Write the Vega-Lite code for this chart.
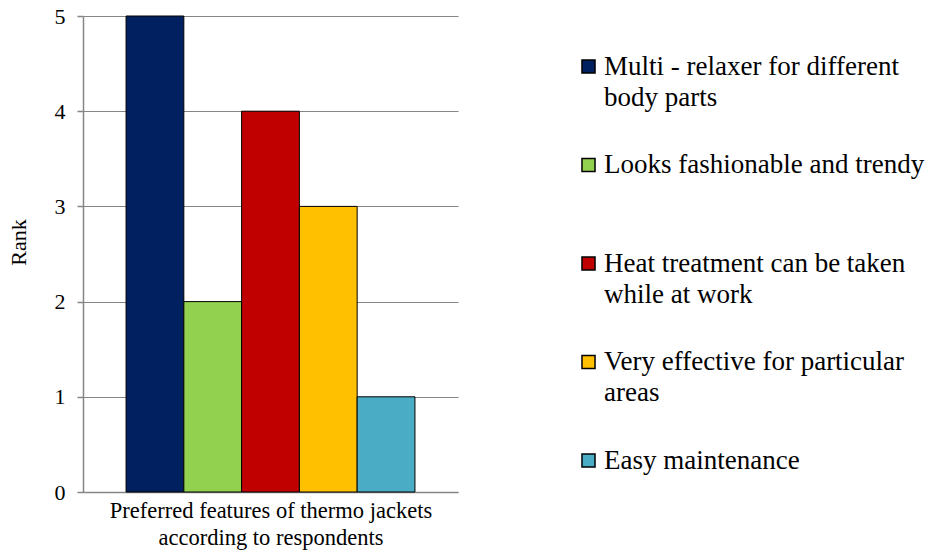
{
  "$schema": "https://vega.github.io/schema/vega-lite/v6.json",
  "width": 375,
  "height": 476,
  "autosize": {"type": "none"},
  "padding": {"left": 83, "top": 16, "right": 476, "bottom": 67},
  "background": "white",
  "config": {
    "view": {"stroke": null},
    "font": "Liberation Serif",
    "style": {"guide-label": {"lineHeight": 31, "font": "Liberation Serif"}, "guide-title": {"font": "Liberation Serif"}}
  },
  "data": {
    "values": [
      {"group": "Preferred features", "feature": "Multi - relaxer for different body parts", "rank": 5},
      {"group": "Preferred features", "feature": "Looks fashionable and trendy", "rank": 2},
      {"group": "Preferred features", "feature": "Heat treatment can be taken while at work", "rank": 4},
      {"group": "Preferred features", "feature": "Very effective for particular areas", "rank": 3},
      {"group": "Preferred features", "feature": "Easy maintenance", "rank": 1}
    ]
  },
  "mark": {"type": "bar", "stroke": "black", "strokeWidth": 1},
  "encoding": {
    "x": {
      "field": "group",
      "type": "nominal",
      "scale": {"paddingInner": 0, "paddingOuter": 0.149},
      "axis": {
        "labels": false,
        "ticks": false,
        "domainColor": "#868686",
        "domainWidth": 1.5,
        "title": ["Preferred features of thermo jackets", "according to respondents"],
        "titleFont": "Liberation Serif",
        "titleFontSize": 22.5,
        "titleFontWeight": "normal",
        "titleLineHeight": 27,
        "titlePadding": 7,
        "titleColor": "black"
      }
    },
    "xOffset": {
      "field": "feature",
      "type": "nominal",
      "sort": ["Multi - relaxer for different body parts", "Looks fashionable and trendy", "Heat treatment can be taken while at work", "Very effective for particular areas", "Easy maintenance"],
      "scale": {"paddingInner": 0, "paddingOuter": 0}
    },
    "y": {
      "field": "rank",
      "type": "quantitative",
      "scale": {"domain": [0, 5], "nice": false},
      "axis": {
        "values": [0, 1, 2, 3, 4, 5],
        "tickSize": 6,
        "tickColor": "#868686",
        "tickWidth": 1.5,
        "domainColor": "#868686",
        "domainWidth": 1.5,
        "gridColor": "#868686",
        "gridWidth": 1.2,
        "labelFont": "Liberation Serif",
        "labelFontSize": 22,
        "labelPadding": 12,
        "labelColor": "black",
        "title": "Rank",
        "titleFont": "Liberation Serif",
        "titleFontSize": 22,
        "titleFontWeight": "normal",
        "titleColor": "black",
        "titlePadding": 24,
        "titleY": 226
      }
    },
    "color": {
      "field": "feature",
      "type": "nominal",
      "sort": ["Multi - relaxer for different body parts", "Looks fashionable and trendy", "Heat treatment can be taken while at work", "Very effective for particular areas", "Easy maintenance"],
      "scale": {
        "domain": ["Multi - relaxer for different body parts", "Looks fashionable and trendy", "Heat treatment can be taken while at work", "Very effective for particular areas", "Easy maintenance"],
        "range": ["#002060", "#92D050", "#C00000", "#FFC000", "#4BACC6"]
      },
      "legend": {
        "title": null,
        "orient": "none",
        "legendX": 492,
        "legendY": 37,
        "padding": 0,
        "symbolType": "square",
        "symbolSize": 170,
        "symbolStrokeColor": "black",
        "symbolStrokeWidth": 1.5,
        "labelFont": "Liberation Serif",
        "labelFontSize": 27,
        "labelOffset": 2,
        "labelLimit": 500,
        "rowPadding": 39.5,
        "labelBaseline": "middle",
        "labelColor": "black",
        "labelExpr": "datum.label == 'Multi - relaxer for different body parts' ? ['Multi - relaxer for different', 'body parts'] : datum.label == 'Heat treatment can be taken while at work' ? ['Heat treatment can be taken', 'while at work'] : datum.label == 'Very effective for particular areas' ? ['Very effective for particular', 'areas'] : [datum.label, '']"
      }
    }
  }
}
